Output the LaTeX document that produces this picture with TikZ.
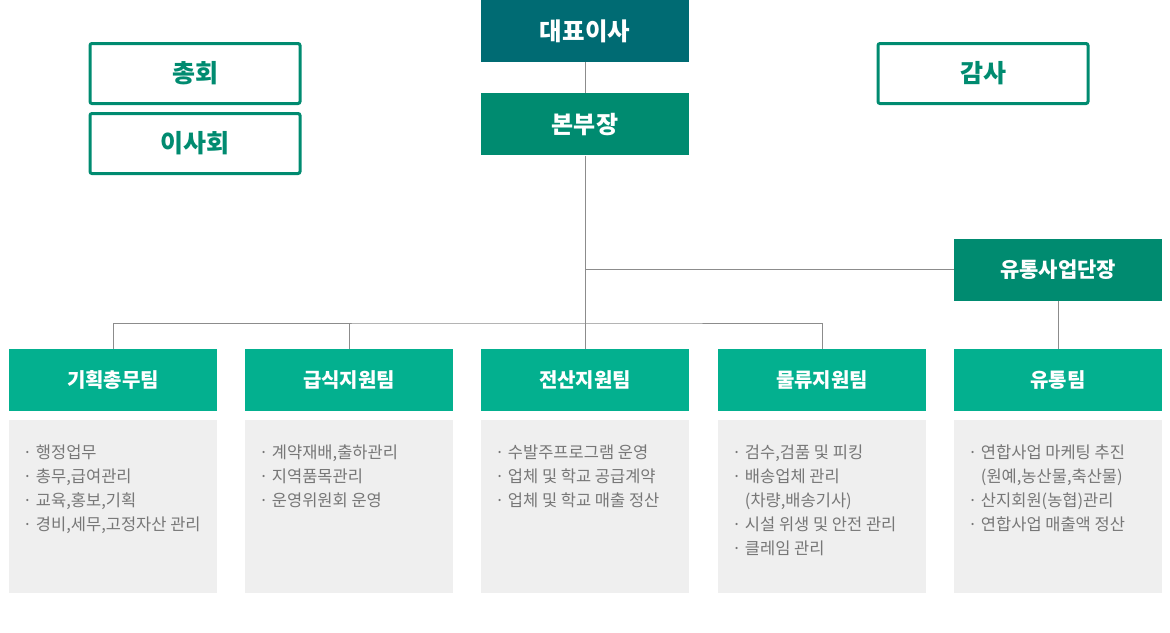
\documentclass[tikz,border=0pt]{standalone}
\usepackage{fontspec}
\setmainfont{Noto Sans CJK KR}
\usetikzlibrary{positioning}
\definecolor{ceoteal}{HTML}{006B73}
\definecolor{midgreen}{HTML}{008B70}
\definecolor{teamgreen}{HTML}{03B08F}
\definecolor{panelgray}{HTML}{EFEFEF}
\definecolor{itemgray}{HTML}{777777}
\definecolor{linegray}{HTML}{8C8C8C}
\tikzset{
  headbox/.style={rectangle, fill=midgreen, text=white, minimum width=208pt, minimum height=62pt, inner sep=0pt, font=\fontsize{21}{25}\selectfont\bfseries},
  outbox/.style={rectangle, draw=midgreen, line width=3pt, rounded corners=2pt, text=midgreen, minimum width=210pt, minimum height=60pt, inner sep=0pt, font=\fontsize{25}{29}\selectfont\bfseries},
  teambox/.style={rectangle, fill=teamgreen, text=white, minimum width=208pt, minimum height=62pt, inner sep=0pt, font=\fontsize{20}{24}\selectfont\bfseries},
  panel/.style={rectangle, fill=panelgray, minimum width=208pt, minimum height=173pt, inner sep=0pt},
  items/.style={anchor=north west, align=left, inner sep=0pt, text=itemgray, font=\fontsize{16.5}{24}\selectfont},
  link/.style={draw=linegray, line width=1pt}
}
\newcommand{\gap}{\hphantom{·\ }}

\begin{document}
\begin{tikzpicture}[x=1pt, y=1pt, node distance=28pt]
\useasboundingbox (0,0) rectangle (1170,-632);

% Top of the chart
\node[headbox, fill=ceoteal, font=\fontsize{24.5}{28}\selectfont\bfseries] (ceo) at (585,-31) {대표이사};
\node[headbox, below=31pt of ceo, font=\fontsize{24}{28}\selectfont\bfseries] (boss) {본부장};

% Boards on the sides
\node[outbox] (assembly) at (195,-73.5) {총회};
\node[outbox, below=7pt of assembly] (board) {이사회};
\node[outbox] (audit) at (983,-73.5) {감사};

% Teams
\node[teambox] (plan) at (113,-380) {기획총무팀};
\node[teambox] (meal) at (349,-380) {급식지원팀};
\node[teambox] (comp) at (585,-380) {전산지원팀};
\node[teambox] (logi) at (822,-380) {물류지원팀};
\node[teambox] (dist) at (1058,-380) {유통팀};

% Head of distribution
\node[headbox, above=48pt of dist] (distboss) {유통사업단장};

% Task panels
\foreach \t in {plan, meal, comp, logi, dist}
  \node[panel, below=9pt of \t] (\t panel) {};

\node[items] (planitems) at ([shift={(14pt,-24pt)}]planpanel.north west)
  {· 행정업무\\· 총무,급여관리\\· 교육,홍보,기획\\· 경비,세무,고정자산 관리};
\node[items] (mealitems) at ([shift={(14pt,-24pt)}]mealpanel.north west)
  {· 계약재배,출하관리\\· 지역품목관리\\· 운영위원회 운영};
\node[items] (compitems) at ([shift={(14pt,-24pt)}]comppanel.north west)
  {· 수발주프로그램 운영\\· 업체 및 학교 공급계약\\· 업체 및 학교 매출 정산};
\node[items] (logiitems) at ([shift={(14pt,-24pt)}]logipanel.north west)
  {· 검수,검품 및 피킹\\· 배송업체 관리\\\gap(차량,배송기사)\\· 시설 위생 및 안전 관리\\· 클레임 관리};
\node[items] (distitems) at ([shift={(14pt,-24pt)}]distpanel.north west)
  {· 연합사업 마케팅 추진\\\gap(원예,농산물,축산물)\\· 산지회원(농협)관리\\· 연합사업 매출액 정산};

% Connections
\coordinate (bus) at (585,-323);
\draw[link] (ceo) -- (boss);
\draw[link] (boss.south) -- (comp.north);
\draw[link] (boss.south |- distboss.west) -- (distboss.west);
\draw[link] (plan.north) |- (bus) -| (logi.north);
\draw[link] (meal.north) -- (meal.north |- bus);
\draw[link] (distboss) -- (dist);

\end{tikzpicture}
\end{document}
